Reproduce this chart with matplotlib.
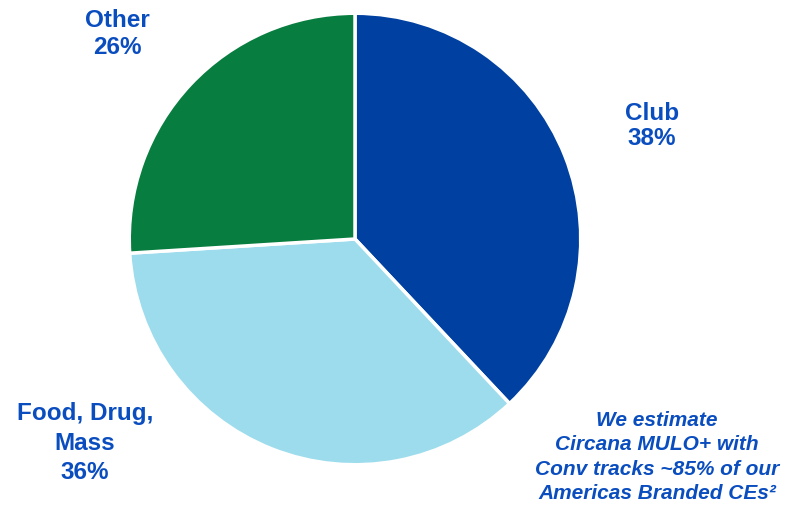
import matplotlib
matplotlib.use("Agg")
import matplotlib.pyplot as plt

categories = ["Club", "Food, Drug,\nMass", "Other"]
shares = [38, 36, 26]
colors = ["#0040A0", "#9CDCEC", "#077D3F"]
text_color = "#0A4DBF"

W, H = 794, 506
fig = plt.figure(figsize=(W / 100, H / 100), dpi=100)
cx, cy, r = 355, 240, 228
ax = fig.add_axes([(cx - r) / W, (H - cy - r) / H, 2 * r / W, 2 * r / H])
ax.pie(shares, colors=colors, startangle=90, counterclock=False,
       wedgeprops=dict(edgecolor="white", linewidth=2.5), radius=1)
ax.set_xlim(-1.01, 1.01)
ax.set_ylim(-1.01, 1.01)
ax.set_aspect("equal")
ax.axis("off")

def ftext(x, y, s, **kw):
    fig.text(x / W, 1 - y / H, s, ha="center", va="center", color=text_color,
             family="Liberation Sans", fontweight="bold", **kw)

label_pos = {"Club": (652, 126), "Food, Drug,\nMass": (85, 443), "Other": (117, 34)}
label_spacing = {"Club": 1.1, "Food, Drug,\nMass": 1.38, "Other": 1.19}
for cat, val in zip(categories, shares):
    x, y = label_pos[cat]
    ftext(x, y, f"{cat}\n{val}%", fontsize=17.5, linespacing=label_spacing[cat])

note = "We estimate\nCircana MULO+ with\nConv tracks ~85% of our\nAmericas Branded CEs²"
ftext(657, 457, note, fontsize=15, style="italic", linespacing=1.36)

fig.savefig("out.png", dpi=100)
